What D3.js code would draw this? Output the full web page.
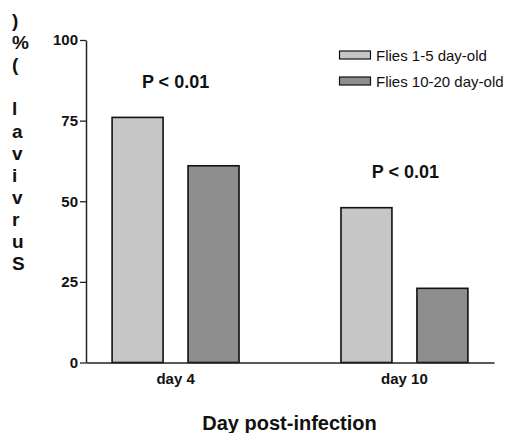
<!DOCTYPE html>
<html>
<head>
<meta charset="utf-8">
<script src="https://cdn.jsdelivr.net/npm/d3@7"></script>
<style>
	body { margin: 0; background: #fff; }
	svg { display: block; font-family: "Liberation Sans", Arial, sans-serif; }
</style>
</head>
<body>
<div id="svg-container"></div>
<script>
// DATA
const days = ["day 4", "day 10"];
const groups = ["Flies 1-5 day-old", "Flies 10-20 day-old"];
const young = [76, 48];
const old = [61, 23];
const yTicks = [0, 25, 50, 75, 100];
const pLabels = ["P < 0.01", "P < 0.01"];
const yTitle = "Survival (%)";
const xTitle = "Day post-infection";
const colors = ["#c6c6c6", "#8e8e8e"];

// CHART
function graphData() {
	const w = 508;
	const h = 433;
	const padTop = 40;
	const padBottom = 70.5;
	const padLeft = 86;
	const padRight = 14;

	const svg = d3.select("#svg-container")
		.append("svg")
		.attr("width", w)
		.attr("height", h);

	// scales
	const xScale = d3.scaleBand()
		.domain(days)
		.range([padLeft, w - padRight])
		.paddingInner(0.4454)
		.paddingOuter(0.114);
	const xInner = d3.scaleBand()
		.domain(groups)
		.range([0, xScale.bandwidth()])
		.paddingInner(0.329);
	const yScale = d3.scaleLinear()
		.domain([0, 100])
		.range([h - padBottom, padTop]);

	// bars
	const rows = [];
	days.forEach((d, i) => {
		rows.push({day: d, group: groups[0], value: young[i], c: colors[0]});
		rows.push({day: d, group: groups[1], value: old[i], c: colors[1]});
	});
	svg.selectAll("rect.bar")
		.data(rows)
		.enter()
		.append("rect")
		.attr("class", "bar")
		.attr("x", d => xScale(d.day) + xInner(d.group))
		.attr("y", d => yScale(d.value))
		.attr("width", xInner.bandwidth())
		.attr("height", d => yScale(0) - yScale(d.value))
		.attr("fill", d => d.c)
		.attr("stroke", "#111")
		.attr("stroke-width", 1.6);

	// y axis
	const yAxis = svg.append("g")
		.attr("transform", `translate(${padLeft},0)`)
		.call(d3.axisLeft(yScale).tickValues(yTicks).tickSize(6).tickPadding(2).tickSizeOuter(0));
	yAxis.select(".domain").attr("stroke", "#222").attr("stroke-width", 1.5);
	yAxis.selectAll(".tick line").attr("stroke", "#222").attr("stroke-width", 1.3);
	yAxis.selectAll("text")
		.attr("font-size", 15)
		.attr("font-weight", "bold")
		.attr("fill", "#111")
		.attr("font-family", "Liberation Sans, Arial, sans-serif");

	// x axis
	const xAxis = svg.append("g")
		.attr("transform", `translate(0,${yScale(0)})`)
		.call(d3.axisBottom(xScale).tickSize(0).tickPadding(11).tickSizeOuter(0));
	xAxis.select(".domain").attr("stroke", "#222").attr("stroke-width", 1.5);
	xAxis.selectAll("text")
		.attr("font-size", 15)
		.attr("font-weight", "bold")
		.attr("fill", "#111")
		.attr("font-family", "Liberation Sans, Arial, sans-serif");

	// p values
	svg.selectAll("text.p")
		.data(days)
		.enter()
		.append("text")
		.attr("class", "p")
		.attr("x", (d, i) => xScale(d) + xScale.bandwidth() / 2 + (i === 0 ? 0 : 1))
		.attr("y", (d, i) => i === 0 ? 88 : 178)
		.attr("text-anchor", "middle")
		.attr("font-size", 18)
		.attr("font-weight", "bold")
		.attr("fill", "#111")
		.text((d, i) => pLabels[i]);

	// legend
	const legend = svg.append("g");
	groups.forEach((g, i) => {
		legend.append("rect")
			.attr("x", 339.5)
			.attr("y", 51 + i * 26)
			.attr("width", 31)
			.attr("height", 8)
			.attr("fill", colors[i])
			.attr("stroke", "#111")
			.attr("stroke-width", 1.2);
		legend.append("text")
			.attr("x", 376)
			.attr("y", 60.5 + i * 26)
			.attr("font-size", 15)
			.attr("fill", "#111")
			.text(g);
	});

	// y title, stacked letters bottom-up
	const letters = yTitle.split("").reverse();
	svg.selectAll("text.ylet")
		.data(letters)
		.enter()
		.append("text")
		.attr("class", "ylet")
		.attr("x", 12)
		.attr("y", (d, i) => 27 + i * 22.1)
		.attr("font-size", 19)
		.attr("font-weight", "bold")
		.attr("fill", "#111")
		.text(d => d);

	// x title
	svg.append("text")
		.attr("x", 289.5)
		.attr("y", 430)
		.attr("text-anchor", "middle")
		.attr("font-size", 20)
		.attr("font-weight", "bold")
		.attr("fill", "#111")
		.text(xTitle);
}

document.addEventListener('DOMContentLoaded', () => {
	graphData();
});
</script>
</body>
</html>
